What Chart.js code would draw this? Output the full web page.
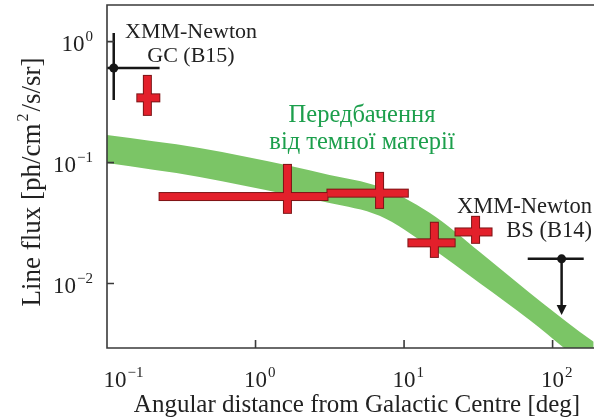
<!DOCTYPE html>
<html>
<head>
<meta charset="utf-8">
<script src="https://cdn.jsdelivr.net/npm/chart.js@4.4.1/dist/chart.umd.min.js"></script>
<style>
  html, body { margin: 0; padding: 0; background: #fff; }
  #chart { display: block; }
</style>
</head>
<body>
<canvas id="chart" width="594" height="419"></canvas>
<script>
// dark matter prediction band: upper and lower edge
const bandX = [0.1, 0.42, 1.69, 3.15, 6.84, 14.85, 32.2, 70, 152, 189];
const bandHigh = [0.169, 0.132, 0.094, 0.079, 0.063, 0.0384, 0.0183, 0.0084, 0.0040, 0.0033];
const bandLow = [0.099, 0.076, 0.054, 0.0464, 0.0363, 0.0201, 0.0101, 0.0050, 0.0023, 0.00186];

// red measurements with error bars
const redX = [0.187, 1.64, 6.84, 16.0, 30.3];
const redXLow = [0.160, 0.226, 3.05, 10.7, 22.2];
const redXHigh = [0.225, 3.05, 10.6, 21.9, 38.8];
const redY = [0.343, 0.0524, 0.0559, 0.0217, 0.0267];
const redYLow = [0.248, 0.0384, 0.0422, 0.0166, 0.0217];
const redYHigh = [0.521, 0.0957, 0.0822, 0.0318, 0.0356];

// XMM-Newton: GC (B15) point and BS (B14) upper limit
const xmmX = [0.111, 115];
const xmmXLow = [0.1, 68];
const xmmXHigh = [0.226, 162];
const xmmY = [0.606, 0.016];
const xmmYLow = [0.33, 0.0055];
const xmmYHigh = [1.18, 0.016];

const xTickExp = [-1, 0, 1, 2];
const yTickExp = [0, -1, -2];

const bandColor = '#7bc566';
const redFill = '#e3202b';
const redEdge = '#7d1416';
const inkColor = '#161616';
const axisColor = '#3a3a3a';
const serif = '"Liberation Serif", "DejaVu Serif", serif';

function drawText(ctx, s, x, y, size, color, align) {
  ctx.save();
  ctx.font = size + 'px ' + serif;
  ctx.fillStyle = color;
  ctx.textAlign = align || 'left';
  ctx.textBaseline = 'alphabetic';
  ctx.fillText(s, x, y);
  ctx.restore();
}

function textWidth(ctx, s, size) {
  ctx.save();
  ctx.font = size + 'px ' + serif;
  const w = ctx.measureText(s).width;
  ctx.restore();
  return w;
}

function expText(e) {
  return e < 0 ? '\u2212' + Math.abs(e) : String(e);
}

// "10" with a raised exponent, x is the left edge
function powerLabel(ctx, e, x, y) {
  const w = textWidth(ctx, '10', 23);
  drawText(ctx, '10', x, y, 23, '#222');
  drawText(ctx, expText(e), x + w + 1, y - 10, 15, '#222');
}

function powerWidth(ctx, e) {
  return textWidth(ctx, '10', 23) + 1 + textWidth(ctx, expText(e), 15);
}

const marksPlugin = {
  id: 'marks',
  afterDatasetsDraw(chart) {
    const ctx = chart.ctx;
    const xs = chart.scales.x;
    const ys = chart.scales.y;
    const t = 7;

    // red crosses: outlines first, then fill so the joint stays clean
    ctx.save();
    for (let i = 0; i < redX.length; i++) {
      const cx = xs.getPixelForValue(redX[i]);
      const cy = ys.getPixelForValue(redY[i]);
      const x1 = xs.getPixelForValue(redXLow[i]);
      const x2 = xs.getPixelForValue(redXHigh[i]);
      const y1 = ys.getPixelForValue(redYHigh[i]);
      const y2 = ys.getPixelForValue(redYLow[i]);
      ctx.strokeStyle = redEdge;
      ctx.lineWidth = 2;
      ctx.strokeRect(x1, cy - t / 2, x2 - x1, t);
      ctx.strokeRect(cx - t / 2, y1, t, y2 - y1);
    }
    for (let i = 0; i < redX.length; i++) {
      const cx = xs.getPixelForValue(redX[i]);
      const cy = ys.getPixelForValue(redY[i]);
      const x1 = xs.getPixelForValue(redXLow[i]);
      const x2 = xs.getPixelForValue(redXHigh[i]);
      const y1 = ys.getPixelForValue(redYHigh[i]);
      const y2 = ys.getPixelForValue(redYLow[i]);
      ctx.fillStyle = redFill;
      ctx.fillRect(x1, cy - t / 2, x2 - x1, t);
      ctx.fillRect(cx - t / 2, y1, t, y2 - y1);
    }

    // XMM-Newton points
    ctx.strokeStyle = inkColor;
    ctx.fillStyle = inkColor;
    ctx.lineWidth = 2.5;
    for (let i = 0; i < xmmX.length; i++) {
      const cx = xs.getPixelForValue(xmmX[i]);
      const cy = ys.getPixelForValue(xmmY[i]);
      ctx.beginPath();
      ctx.moveTo(xs.getPixelForValue(xmmXLow[i]), cy);
      ctx.lineTo(xs.getPixelForValue(xmmXHigh[i]), cy);
      const yTop = ys.getPixelForValue(xmmYHigh[i]);
      const yBot = ys.getPixelForValue(xmmYLow[i]);
      const isLimit = xmmYHigh[i] === xmmY[i];
      ctx.moveTo(cx, yTop);
      ctx.lineTo(cx, isLimit ? yBot - 8 : yBot);
      ctx.stroke();
      if (isLimit) {
        ctx.beginPath();
        ctx.moveTo(cx - 5, yBot - 10);
        ctx.lineTo(cx + 5, yBot - 10);
        ctx.lineTo(cx, yBot);
        ctx.closePath();
        ctx.fill();
      }
      ctx.beginPath();
      ctx.arc(cx, cy, 4.5, 0, Math.PI * 2);
      ctx.fill();
    }
    ctx.restore();
  },
  afterDraw(chart) {
    const ctx = chart.ctx;
    const a = chart.chartArea;
    const xs = chart.scales.x;
    const ys = chart.scales.y;

    // frame: left, bottom and top lines
    ctx.save();
    ctx.strokeStyle = axisColor;
    ctx.lineWidth = 1.6;
    ctx.beginPath();
    ctx.moveTo(a.right, a.top);
    ctx.lineTo(a.left, a.top);
    ctx.lineTo(a.left, a.bottom);
    ctx.lineTo(a.right, a.bottom);
    xTickExp.forEach(e => {
      const px = xs.getPixelForValue(Math.pow(10, e));
      ctx.moveTo(px, a.bottom);
      ctx.lineTo(px, a.bottom - 8);
    });
    yTickExp.forEach(e => {
      const py = ys.getPixelForValue(Math.pow(10, e));
      ctx.moveTo(a.left, py);
      ctx.lineTo(a.left + 7, py);
    });
    ctx.stroke();
    ctx.restore();

    // tick labels
    const w10 = textWidth(ctx, '10', 23);
    xTickExp.forEach(e => {
      const px = Math.max(xs.getPixelForValue(Math.pow(10, e)), a.left + 8);
      powerLabel(ctx, e, px - w10 / 2, a.bottom + 39);
    });
    yTickExp.forEach(e => {
      const py = ys.getPixelForValue(Math.pow(10, e));
      powerLabel(ctx, e, 93 - powerWidth(ctx, e), py + 9);
    });

    // axis titles
    drawText(ctx, 'Angular distance from Galactic Centre [deg]', 357, 412, 25, '#222', 'center');

    ctx.save();
    ctx.translate(40, 182);
    ctx.rotate(-Math.PI / 2);
    const p1 = 'Line flux [ph/cm', p2 = '2', p3 = '/s/sr]';
    const w1 = textWidth(ctx, p1, 27), w2 = textWidth(ctx, p2, 16), w3 = textWidth(ctx, p3, 27);
    let sx = -(w1 + w2 + w3 + 4) / 2;
    drawText(ctx, p1, sx, 0, 27, '#222');
    drawText(ctx, p2, sx + w1 + 2, -12, 16, '#222');
    drawText(ctx, p3, sx + w1 + w2 + 4, 0, 27, '#222');
    ctx.restore();

    // annotations
    drawText(ctx, 'XMM-Newton', 191, 38, 22, '#222', 'center');
    drawText(ctx, 'GC (B15)', 191, 62, 22, '#222', 'center');
    drawText(ctx, 'XMM-Newton', 592, 213, 22.5, '#222', 'right');
    drawText(ctx, 'BS (B14)', 592, 237, 22.5, '#222', 'right');
    drawText(ctx, 'Передбачення', 362, 122, 24.5, '#1c9f4c', 'center');
    drawText(ctx, 'від темної матерії', 362, 149, 24.5, '#1c9f4c', 'center');
  }
};

new Chart(document.getElementById('chart'), {
  type: 'scatter',
  data: {
    datasets: [
      {
        data: bandX.map((x, i) => ({ x, y: bandHigh[i] })),
        showLine: true,
        borderWidth: 0,
        pointRadius: 0,
        cubicInterpolationMode: 'monotone',
        fill: false
      },
      {
        data: bandX.map((x, i) => ({ x, y: bandLow[i] })),
        showLine: true,
        borderWidth: 0,
        pointRadius: 0,
        cubicInterpolationMode: 'monotone',
        fill: '-1',
        backgroundColor: bandColor
      }
    ]
  },
  options: {
    responsive: false,
    animation: false,
    layout: { padding: { left: 107, top: 5, right: 0, bottom: 71 } },
    plugins: {
      legend: { display: false },
      tooltip: { enabled: false }
    },
    scales: {
      x: { type: 'logarithmic', min: 0.1, max: 190, display: false },
      y: { type: 'logarithmic', min: 0.00293, max: 2.01, display: false }
    }
  },
  plugins: [marksPlugin]
});
</script>
</body>
</html>
